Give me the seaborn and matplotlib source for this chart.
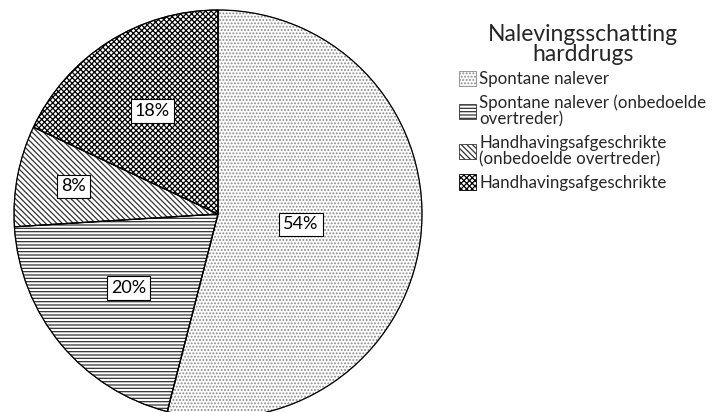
import matplotlib
matplotlib.use("Agg")
import matplotlib.pyplot as plt
import numpy as np
import seaborn as sns

# data ------------------------------------------------------------
categories = ["Spontane nalever",
              "Spontane nalever (onbedoelde\novertreder)",
              "Handhavingsafgeschrikte\n(onbedoelde overtreder)",
              "Handhavingsafgeschrikte"]
shares = [54, 20, 8, 18]
legend_title = "Nalevingsschatting\nharddrugs"

# styling ---------------------------------------------------------
hatches = [".....", "-----", "\\\\\\\\\\\\", "xxxxxx"]
hatch_colors = ["#8a8a8a", "#333333", "#333333", "black"]
label_dist = [0.41, 0.57, 0.72, 0.60]

sns.set_theme(style="white")
plt.rcParams["font.family"] = ["Lato", "DejaVu Sans"]
plt.rcParams["hatch.linewidth"] = 0.9

fig = plt.figure(figsize=(7.2, 4.12), dpi=100)
ax = fig.add_axes([14/720, -6/412, 408/720, 408/412])

# hatched fill (hatch colour follows the edge colour)
wedges, _ = ax.pie(shares, startangle=90, counterclock=False,
                   colors=["white"]*4, radius=1,
                   wedgeprops=dict(linewidth=0.6))
for w, h, c in zip(wedges, hatches, hatch_colors):
    w.set_hatch(h)
    w.set_edgecolor(c)

# black outlines on top
outl, _ = ax.pie(shares, startangle=90, counterclock=False, radius=1,
                 wedgeprops=dict(facecolor="none", edgecolor="black", linewidth=0.9))

# percentage labels
total = sum(shares)
start = 90.0
for s, d in zip(shares, label_dist):
    mid = np.deg2rad(start - 360*s/total/2)
    start -= 360*s/total
    ax.text(d*np.cos(mid), d*np.sin(mid), f"{s}%", ha="center", va="center",
            fontsize=13, color="black",
            bbox=dict(boxstyle="square,pad=0.22", fc="white", ec="black", lw=0.8))

ax.set_xlim(-1, 1)
ax.set_ylim(-1, 1)
ax.set_aspect("equal")
ax.axis("off")

handles = []
for h, c in zip(hatches, hatch_colors):
    p = plt.Rectangle((0, 0), 1, 1, facecolor="white", edgecolor=c, hatch=h, linewidth=0.6)
    handles.append(p)

leg = fig.legend(handles, categories, title=legend_title,
                 loc="upper left", bbox_to_anchor=(447/720, 1 - 12/412),
                 frameon=False, fontsize=12.2, title_fontsize=16.5,
                 handlelength=1.0, handleheight=1.0, handletextpad=0.2,
                 labelspacing=0.42, borderpad=0.2)
leg.get_title().set_multialignment("center")
leg.get_title().set_linespacing(0.95)
for t in leg.get_texts():
    t.set_linespacing(1.05)
leg._legend_box.sep = 4

plt.savefig("out.png", dpi=100)
